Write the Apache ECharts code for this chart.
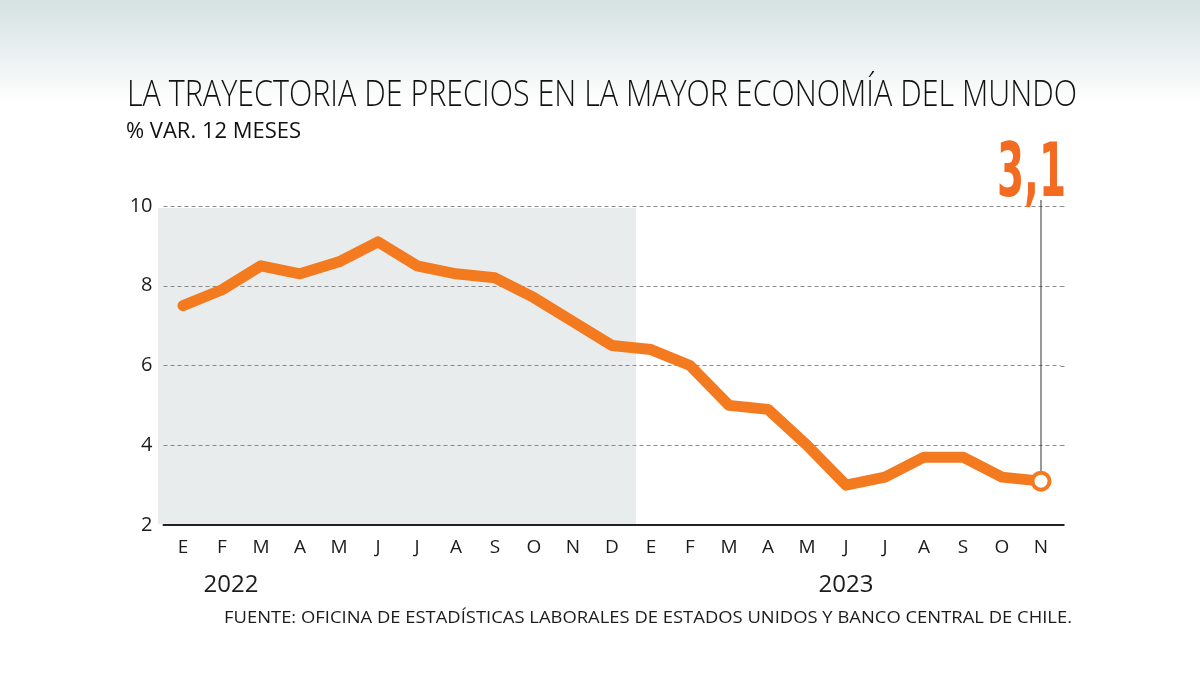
<!DOCTYPE html>
<html><head><meta charset="utf-8">
<script src="https://cdn.jsdelivr.net/npm/echarts@6/dist/echarts.min.js"></script>
<style>html,body{margin:0;padding:0;background:#fff}#c{width:1200px;height:681px}</style>
</head><body><div id="c"></div>
<script>
const categories = ['E','F','M','A','M','J','J','A','S','O','N','D','E','F','M','A','M','J','J','A','S','O','N'];
const values = [7.5,7.9,8.5,8.3,8.6,9.1,8.5,8.3,8.2,7.7,7.1,6.5,6.4,6.0,5.0,4.9,4.0,3.0,3.2,3.7,3.7,3.2,3.1];
const yearLabels = ['2022','2023'];
const yMin = 2, yMax = 10, yInterval = 2;
const shadeFrom = 0, shadeTo = 11;
const lastLabel = '3,1';
const titleText = 'LA TRAYECTORIA DE PRECIOS EN LA MAYOR ECONOMÍA DEL MUNDO';
const subtitleText = '% VAR. 12 MESES';
const sourceText = 'FUENTE: OFICINA DE ESTADÍSTICAS LABORALES DE ESTADOS UNIDOS Y BANCO CENTRAL DE CHILE.';

const ORANGE = '#F47A20';
const TXT = '#1c1c1c';
const FONT = '"Open Sans", "Noto Sans", sans-serif';

function measure(text, font){
  const c = document.createElement('canvas').getContext('2d');
  c.font = font; return c.measureText(text).width;
}
function fitText(text, x, y, width, size, weight, family, color, align){
  const w = measure(text, weight + ' ' + size + 'px ' + family);
  return {type:'text', x:x, y:y, scaleX: width / w, z: 10,
    style:{text:text, fill:color, font: weight + ' ' + size + 'px ' + family,
      textAlign: align || 'left', textVerticalAlign: 'top'}};
}

const chart = echarts.init(document.getElementById('c'));
const seriesData = values.map((v,i)=> i === values.length-1
  ? {value:v, symbol:'circle', symbolSize:17, itemStyle:{color:'#fff', borderColor:ORANGE, borderWidth:4}}
  : {value:v, symbol:'none'});

const option = {
  animation:false,
  backgroundColor:'#ffffff',
  grid:{left:163.5, right:139.5, top:206, bottom:156, containLabel:false},
  xAxis:{type:'category', data:categories, boundaryGap:true,
    axisLine:{lineStyle:{color:'#222', width:2}}, axisTick:{show:false},
    axisLabel:{color:TXT, fontSize:19, fontFamily:FONT, margin:13, interval:0}},
  yAxis:{type:'value', min:yMin, max:yMax, interval:yInterval,
    axisLine:{show:false}, axisTick:{show:false},
    axisLabel:{color:TXT, fontSize:20, fontFamily:FONT, margin:11},
    splitLine:{lineStyle:{color:'#8a8a8a', type:[4,3], width:1}}},
  series:[{type:'line', data:seriesData, z:5,
    lineStyle:{color:ORANGE, width:11, cap:'round', join:'round'},
    itemStyle:{color:ORANGE}}]
};
chart.setOption(option);

const px = (i, v) => chart.convertToPixel({gridIndex:0}, [i, v]);
const s0 = px(shadeFrom, yMax), s1 = px(shadeTo, yMin);
const last = px(values.length-1, values[values.length-1]);
const top10 = px(values.length-1, yMax);
const gridRight = px(values.length-1, yMin)[0] + 19.5;
const extensions = [];
for (let v = yMin + yInterval; v <= yMax; v += yInterval) {
  const y = Math.round(px(0, v)[1]) + 0.5;
  extensions.push({type:'line', z:1, shape:{x1:gridRight, y1:y, x2:gridRight+5, y2:y},
    style:{stroke:'#8a8a8a', lineWidth:1, lineDash:[4,3]}});
}
const ya = px(0, yMin)[1];
extensions.push({type:'line', z:1, shape:{x1:gridRight-1, y1:ya, x2:gridRight+4, y2:ya},
  style:{stroke:'#222', lineWidth:2}});

chart.setOption({graphic:[
  {type:'rect', z:-5, shape:{x:0, y:0, width:1200, height:105},
    style:{fill:new echarts.graphic.LinearGradient(0,0,0,1,[{offset:0,color:'#d5e1e2'},{offset:1,color:'#ffffff'}])}},
  {type:'rect', z:-1, shape:{x:s0[0]-25, y:s0[1]+2, width:(s1[0]+24)-(s0[0]-25), height:s1[1]-s0[1]-3},
    style:{fill:'#e8ecec'}},
  {type:'line', z:3, shape:{x1:last[0], y1:last[1]-9, x2:last[0], y2:top10[1]-6},
    style:{stroke:'#333', lineWidth:1}},
  ...extensions,
  fitText(titleText, 127, 78, 950, 36, '300', FONT, '#111'),
  fitText(subtitleText, 126, 121, 175, 22, '400', FONT, '#111'),
  fitText(sourceText, 1072, 610, 848, 17, '400', FONT, TXT, 'right'),
  fitText(lastLabel, 1066, 140, 69, 74, 'bold', '"DejaVu Sans Condensed", "DejaVu Sans", sans-serif', '#F26B21', 'right'),
  {type:'text', x:231, y:585, z:10, style:{text:yearLabels[0], fill:TXT, font:'400 24px '+FONT, textAlign:'center', textVerticalAlign:'middle'}},
  {type:'text', x:846, y:585, z:10, style:{text:yearLabels[1], fill:TXT, font:'400 24px '+FONT, textAlign:'center', textVerticalAlign:'middle'}}
]});
</script></body></html>
